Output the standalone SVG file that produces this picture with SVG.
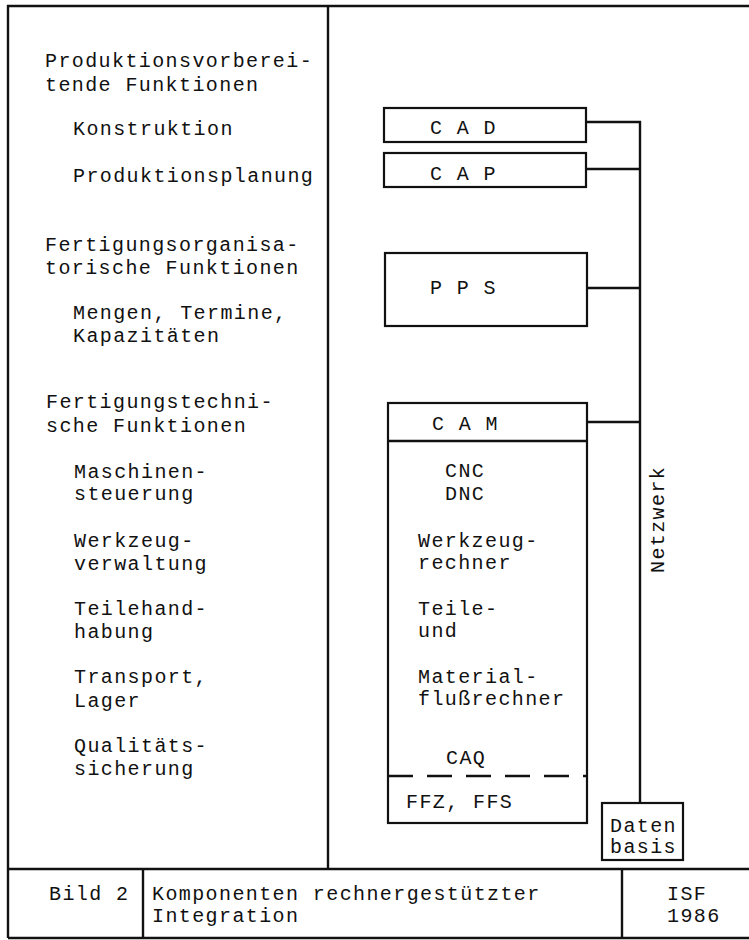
<svg xmlns="http://www.w3.org/2000/svg" width="749" height="940" viewBox="0 0 749 940">
<style>
  .t { font-family: "Liberation Mono", "DejaVu Sans Mono", monospace; font-size: 20px; letter-spacing: 1.4px; fill: #111; }
  .ln { stroke: #111; stroke-width: 2.4; fill: none; }
  .box { stroke: #111; stroke-width: 2.2; fill: #fff; }
</style>
<rect width="749" height="940" fill="#fff"/>
<g id="frame">
  <line class="ln" x1="7" y1="6" x2="749" y2="6"/>
  <line class="ln" x1="8" y1="5" x2="8" y2="938"/>
  <line class="ln" x1="328" y1="6" x2="328" y2="869"/>
  <line class="ln" x1="8" y1="869" x2="749" y2="869"/>
  <line class="ln" x1="8" y1="938" x2="749" y2="938"/>
  <line class="ln" x1="143" y1="869" x2="143" y2="938"/>
  <line class="ln" x1="622" y1="869" x2="622" y2="938"/>
</g>
<g id="left-column">
  <text class="t" x="45" y="67">Produktionsvorberei-</text>
  <text class="t" x="45" y="91">tende Funktionen</text>
  <text class="t" x="73" y="135">Konstruktion</text>
  <text class="t" x="73" y="182">Produktionsplanung</text>
  <text class="t" x="45" y="251">Fertigungsorganisa-</text>
  <text class="t" x="45" y="274">torische Funktionen</text>
  <text class="t" x="73" y="319">Mengen, Termine,</text>
  <text class="t" x="73" y="342">Kapazitäten</text>
  <text class="t" x="46" y="408">Fertigungstechni-</text>
  <text class="t" x="46" y="432">sche Funktionen</text>
  <text class="t" x="74" y="478">Maschinen-</text>
  <text class="t" x="74" y="500">steuerung</text>
  <text class="t" x="74" y="547">Werkzeug-</text>
  <text class="t" x="74" y="570">verwaltung</text>
  <text class="t" x="74" y="615">Teilehand-</text>
  <text class="t" x="74" y="638">habung</text>
  <text class="t" x="74" y="683">Transport,</text>
  <text class="t" x="74" y="707">Lager</text>
  <text class="t" x="74" y="752">Qualitäts-</text>
  <text class="t" x="74" y="775">sicherung</text>
</g>
<g id="connectors">
  <line class="ln" x1="640" y1="121" x2="640" y2="803"/>
  <line class="ln" x1="586" y1="122" x2="641" y2="122"/>
  <line class="ln" x1="586" y1="169" x2="640" y2="169"/>
  <line class="ln" x1="587" y1="288" x2="640" y2="288"/>
  <line class="ln" x1="587" y1="422" x2="640" y2="422"/>
</g>
<g id="cad">
  <rect class="box" x="384" y="108" width="202" height="34"/>
  <text class="t" x="430" y="134">C A D</text>
</g>
<g id="cap">
  <rect class="box" x="384" y="153" width="202" height="34"/>
  <text class="t" x="430" y="180">C A P</text>
</g>
<g id="pps">
  <rect class="box" x="385" y="253" width="202" height="73"/>
  <text class="t" x="430" y="294">P P S</text>
</g>
<g id="cam">
  <rect class="box" x="388" y="403" width="199" height="420"/>
  <line class="ln" x1="388" y1="441" x2="587" y2="441"/>
  <text class="t" x="432" y="430">C A M</text>
  <text class="t" x="445" y="477">CNC</text>
  <text class="t" x="445" y="500">DNC</text>
  <text class="t" x="418" y="547">Werkzeug-</text>
  <text class="t" x="418" y="569">rechner</text>
  <text class="t" x="418" y="615">Teile-</text>
  <text class="t" x="418" y="637">und</text>
  <text class="t" x="418" y="683">Material-</text>
  <text class="t" x="418" y="705">flußrechner</text>
  <text class="t" x="446" y="764">CAQ</text>
  <line class="ln" x1="388" y1="776" x2="587" y2="776" stroke-dasharray="25 14"/>
  <text class="t" x="406" y="808">FFZ, FFS</text>
</g>
<g id="netzwerk">
  <text class="t" transform="translate(664,573) rotate(-90)">Netzwerk</text>
</g>
<g id="datenbasis">
  <rect class="box" x="602" y="803" width="81" height="57"/>
  <text class="t" x="610" y="832">Daten</text>
  <text class="t" x="610" y="853">basis</text>
</g>
<g id="caption">
  <text class="t" x="49" y="900">Bild 2</text>
  <text class="t" x="152" y="900">Komponenten rechnergestützter</text>
  <text class="t" x="152" y="922">Integration</text>
  <text class="t" x="667" y="900">ISF</text>
  <text class="t" x="667" y="922">1986</text>
</g>
</svg>
